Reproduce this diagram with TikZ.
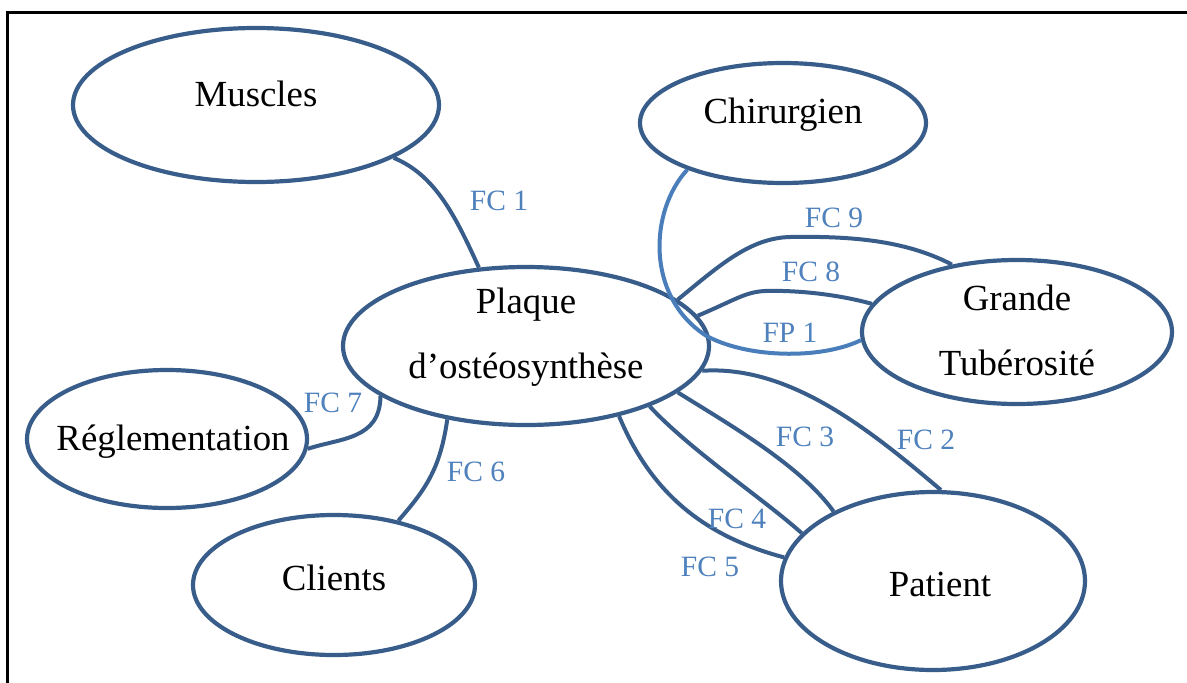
\documentclass[tikz,border=0pt]{standalone}
\usepackage{fontspec}
\setmainfont{Liberation Serif}
\usetikzlibrary{shapes.geometric}
\definecolor{ellblue}{RGB}{56,93,138}
\definecolor{labblue}{RGB}{79,129,189}
\definecolor{fpblue}{RGB}{74,126,187}
\tikzset{
  ent/.style={ellipse, draw=ellblue, line width=4.2pt, inner sep=0pt},
  txt/.style={align=center, inner sep=0pt, font=\fontsize{36.8}{65}\selectfont},
  conn/.style={draw=ellblue, line width=4pt},
  fpconn/.style={draw=fpblue, line width=4pt},
  lab/.style={text=labblue, inner sep=0pt, font=\fontsize{29.5}{32}\selectfont},
  frame/.style={draw=black, line width=3pt}
}
\begin{document}
\begin{tikzpicture}[x=1pt,y=-1pt]
\useasboundingbox (0,0) rectangle (1187,683);
\coordinate (f1) at (7,683);
\coordinate (f2) at (7,12);
\coordinate (f3) at (1187,12);
\draw[frame] (f1) -- (f2) -- (f3);

\node[ent, minimum width=366pt, minimum height=154pt,
  label={[txt, yshift=11pt]center:Muscles}] (mus) at (256,105) {};
\node[ent, minimum width=286pt, minimum height=120pt,
  label={[txt, yshift=8pt]center:Chirurgien}] (chi) at (783,123) {};
\node[ent, minimum width=366pt, minimum height=158pt,
  label={[txt, yshift=9pt]center:Plaque\\d’ostéosynthèse}] (pl) at (526,346) {};
\node[ent, minimum width=310pt, minimum height=144pt,
  label={[txt, yshift=2pt]center:Grande\\Tubérosité}] (gt) at (1017,332) {};
\node[ent, minimum width=280pt, minimum height=138pt,
  label={[txt, xshift=6pt, yshift=-3pt]center:Réglementation}] (reg) at (167,439) {};
\node[ent, minimum width=282pt, minimum height=140pt,
  label={[txt, yshift=7pt]center:Clients}] (cli) at (334,585) {};
\node[ent, minimum width=304pt, minimum height=178pt,
  label={[txt, xshift=7pt, yshift=-3pt]center:Patient}] (pat) at (933,581) {};

% connectors
\draw[conn] (mus.-21) .. controls (435,175) and (455,215) .. (pl.121);
\draw[fpconn] (chi.206) .. controls (650,210) and (645,295) .. (705,335)
   .. controls (745,358) and (820,360) .. (gt.183);
\draw[conn] (pl.17.6) .. controls (720,265) and (750,238) .. (790,237)
   .. controls (850,236) and (905,240) .. (gt.134);
\draw[conn] (pl.10) .. controls (735,300) and (745,292) .. (765,291)
   .. controls (800,290) and (840,295) .. (gt.169);
\draw[conn] (pl.-8.2) .. controls (790,365) and (870,430) .. (pat.85.5);
\draw[conn] (pl.-17.7) .. controls (730,425) and (800,465) .. (pat.145);
\draw[conn] (pl.-26.8) .. controls (690,450) and (765,500) .. (pat.160.5);
\draw[conn] (pl.-37.8) .. controls (650,490) and (700,535) .. (pat.171.8);
\draw[conn] (pl.199.6) .. controls (380,440) and (340,438) .. (reg.-4.5);
\draw[conn] (pl.223.9) .. controls (440,470) and (425,490) .. (cli.45.9);

% labels
\node[lab] (l1) at (499,201) {FC 1};
\node[lab] (l9) at (834,218) {FC 9};
\node[lab] (l8) at (811,272) {FC 8};
\node[lab] (lp) at (790,333) {FP 1};
\node[lab] (l3) at (805,437) {FC 3};
\node[lab] (l2) at (926,440) {FC 2};
\node[lab] (l4) at (737,519) {FC 4};
\node[lab] (l5) at (710,567) {FC 5};
\node[lab] (l7) at (333,403) {FC 7};
\node[lab] (l6) at (476,472) {FC 6};
\end{tikzpicture}
\end{document}
